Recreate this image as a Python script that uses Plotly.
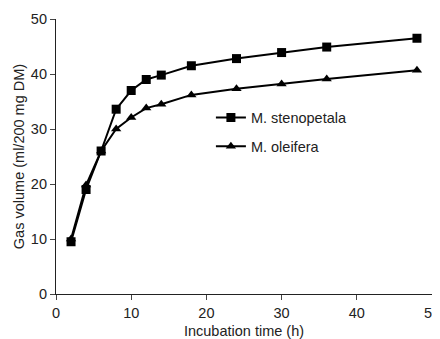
import plotly.graph_objects as go

time_h = [2, 4, 6, 8, 10, 12, 14, 18, 24, 30, 36, 48]
stenopetala = [9.5, 19.0, 26.0, 33.6, 37.0, 39.0, 39.8, 41.5, 42.8, 43.9, 44.9, 46.5]
oleifera = [10.0, 19.8, 26.0, 30.0, 32.1, 33.8, 34.5, 36.2, 37.3, 38.2, 39.1, 40.7]
x_ticks = [0, 10, 20, 30, 40, 50]
y_ticks = [0, 10, 20, 30, 40, 50]

fig = go.Figure()
fig.add_trace(go.Scatter(x=time_h, y=stenopetala, mode="lines+markers", name="M. stenopetala",
                         legendgroup="a",
                         line=dict(color="black", width=2),
                         marker=dict(symbol="square", size=9, color="black")))
fig.add_trace(go.Scatter(x=time_h, y=oleifera, mode="lines+markers", name="M. oleifera",
                         legendgroup="b",
                         line=dict(color="black", width=2),
                         marker=dict(symbol="triangle-up", size=9, color="black")))

axis_common = dict(showgrid=False, zeroline=False, showline=True, linecolor="#222", linewidth=1.2,
                   ticks="outside", ticklen=5, tickcolor="#444", automargin=False,
                   tickfont=dict(size=14.5, color="#222"))
fig.update_layout(
    width=440, height=331,
    margin=dict(l=48, r=16, t=11, b=45),
    paper_bgcolor="white", plot_bgcolor="white",
    font=dict(family="Liberation Sans, Arial, sans-serif", size=14.5, color="#222"),
    xaxis=dict(range=[0, 50], tickvals=x_ticks,
               title=dict(text="Incubation time (h)", standoff=7, font=dict(size=14.5)), **axis_common),
    yaxis=dict(range=[0, 50], tickvals=y_ticks,
               title=dict(text="Gas volume (ml/200 mg DM)", standoff=2, font=dict(size=14.5)), **axis_common),
    legend=dict(x=0.412, y=0.70, xanchor="left", yanchor="top", bgcolor="rgba(0,0,0,0)",
                font=dict(size=14.5), traceorder="grouped", tracegroupgap=7, itemwidth=30),
    showlegend=True,
)
fig.write_html("out.html")
